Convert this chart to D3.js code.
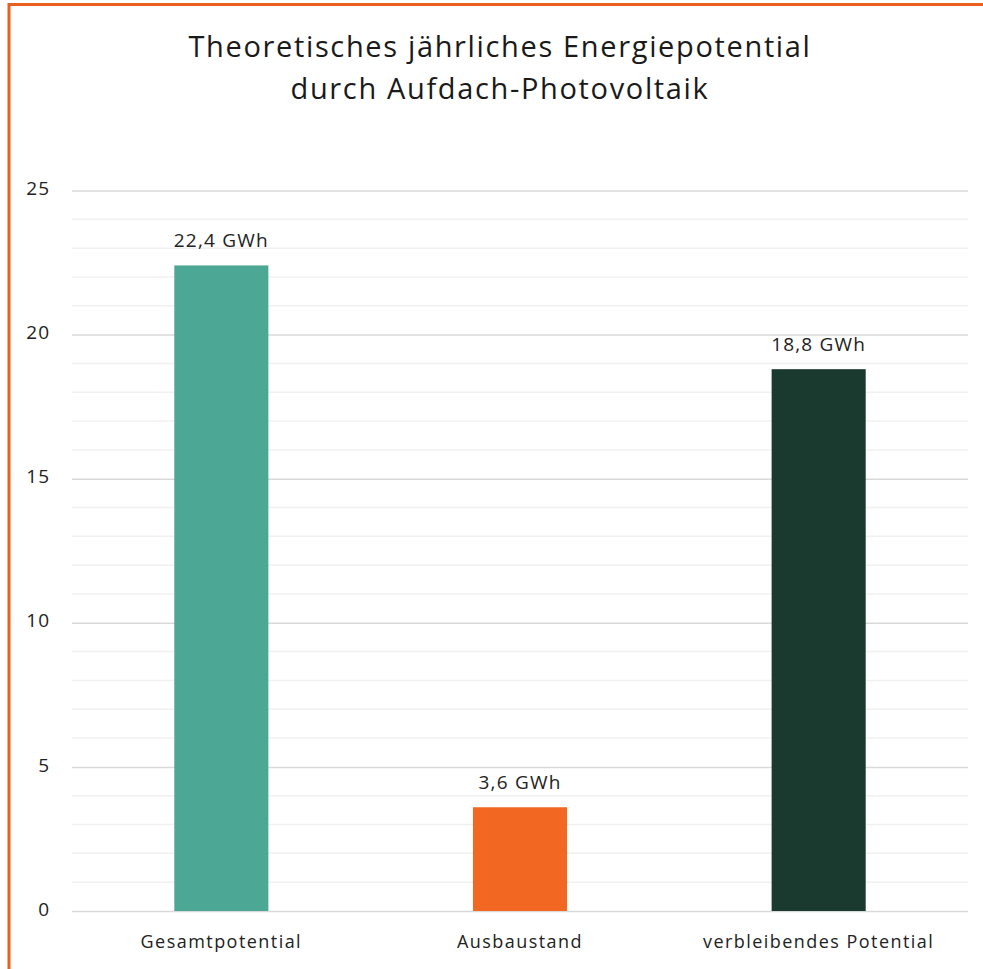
<!DOCTYPE html>
<html>
<head>
<meta charset="utf-8">
<script src="https://cdn.jsdelivr.net/npm/d3@7"></script>
<style>
  html, body { margin: 0; padding: 0; background: #fff; }
  svg { display: block; }
</style>
</head>
<body>
<svg id="chart" width="983" height="969"></svg>
<script>
// Chart data
const categories = ["Gesamtpotential", "Ausbaustand", "verbleibendes Potential"];
const values = [22.4, 3.6, 18.8];
const valueLabels = ["22,4 GWh", "3,6 GWh", "18,8 GWh"];
const barColors = ["#4ca894", "#f26722", "#1b3a2f"];
const majorTicks = [0, 5, 10, 15, 20, 25];
const minorTicks = d3.range(0, 26, 1);
const titleLines = ["Theoretisches jährliches Energiepotential", "durch Aufdach-Photovoltaik"];

const font = "'Open Sans', sans-serif";
const svg = d3.select("#chart");
const W = 983, H = 969;

// Frame
svg.append("rect").attr("width", W).attr("height", H).attr("fill", "#fff");
svg.append("line").attr("x1", 9).attr("x2", 9).attr("y1", 3).attr("y2", H)
  .attr("stroke", "#e8601c").attr("stroke-width", 3);
svg.append("line").attr("x1", 8).attr("x2", W).attr("y1", 4.5).attr("y2", 4.5)
  .attr("stroke", "#e8601c").attr("stroke-width", 3);

const margin = { left: 72, right: 15, top: 190.5, bottom: 58 };
const x = d3.scaleBand().domain(categories)
  .range([margin.left, W - margin.right])
  .paddingInner(0.685).paddingOuter(0.3425);
const y = d3.scaleLinear().domain([0, 25]).range([H - margin.bottom, margin.top]);

// Minor grid
svg.append("g").selectAll("line").data(minorTicks.filter(d => d % 5 !== 0)).join("line")
  .attr("x1", margin.left).attr("x2", W - margin.right)
  .attr("y1", d => y(d)).attr("y2", d => y(d))
  .attr("stroke", "#f0f0f0").attr("stroke-width", 1.5);

// Major grid with tick labels
const yAxis = d3.axisLeft(y).tickValues(majorTicks)
  .tickSize(-(W - margin.left - margin.right)).tickPadding(22).tickFormat(d3.format("d"));
const gy = svg.append("g").attr("transform", `translate(${margin.left},0)`).call(yAxis);
gy.select(".domain").remove();
gy.selectAll(".tick line").attr("stroke", "#d9d9d9").attr("stroke-width", 1.5);
gy.selectAll(".tick text").attr("fill", "#222").attr("font-family", font)
  .attr("font-size", 19).attr("letter-spacing", "1px").attr("dy", "0.22em");

// Bars
svg.append("g").selectAll("rect").data(values).join("rect")
  .attr("x", (d, i) => x(categories[i]))
  .attr("width", x.bandwidth())
  .attr("y", d => y(d))
  .attr("height", d => y(0) - y(d))
  .attr("fill", (d, i) => barColors[i]);

// Value labels
svg.append("g").selectAll("text").data(values).join("text")
  .attr("x", (d, i) => x(categories[i]) + x.bandwidth() / 2)
  .attr("y", d => y(d) - 18)
  .attr("text-anchor", "middle")
  .attr("font-family", font).attr("font-size", 19).attr("letter-spacing", "1.2px")
  .attr("fill", "#222")
  .text((d, i) => valueLabels[i]);

// Category labels
const xAxis = d3.axisBottom(x).tickSize(0).tickPadding(24);
const gx = svg.append("g").attr("transform", `translate(0,${y(0)})`).call(xAxis);
gx.select(".domain").remove();
gx.selectAll(".tick text").attr("fill", "#222").attr("font-family", font)
  .attr("font-size", 18).attr("letter-spacing", "1.45px");

// Title
svg.append("g").selectAll("text").data(titleLines).join("text")
  .attr("x", 500).attr("y", (d, i) => 57 + i * 42)
  .attr("text-anchor", "middle")
  .attr("font-family", font).attr("font-size", 29).attr("letter-spacing", "1.65px")
  .attr("fill", "#1a1a1a")
  .text(d => d);
</script>
</body>
</html>
